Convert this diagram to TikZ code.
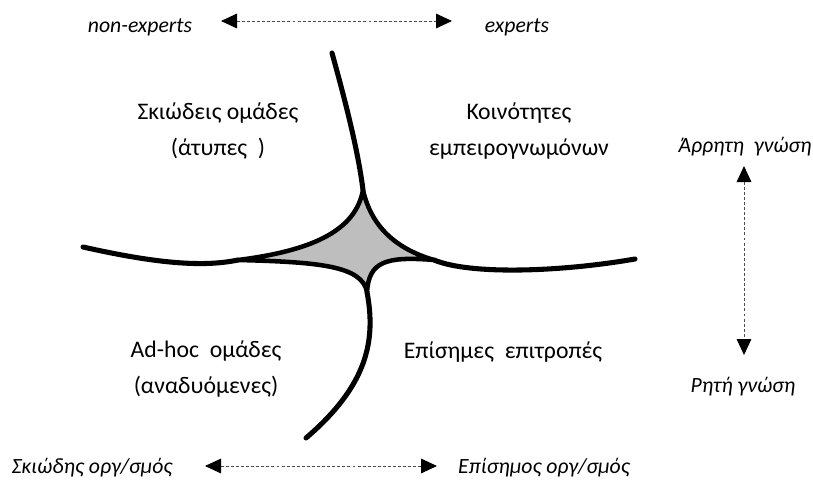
\documentclass[tikz,border=0pt]{standalone}
\usepackage{fontspec}
\setmainfont{Carlito}
\usetikzlibrary{arrows.meta}

\definecolor{starfill}{RGB}{190,190,190}

\begin{document}
\begin{tikzpicture}[x=0.75pt,y=-0.75pt,>={Triangle[length=12pt,width=11pt,color=black]}]
  \tikzset{quad/.style={align=center,font=\fontsize{17.8}{27}\selectfont},
    side/.style={font=\fontsize{16.3}{19}\selectfont\itshape},
    scaleline/.style={<->,gray!60!black,line width=0.7pt,dash pattern=on 2.2pt off 1.6pt},
    arm/.style={line width=3.8pt,line cap=round}}
  \useasboundingbox (0,0) rectangle (813,481);
  \coordinate (T) at (363,190);
  \coordinate (L) at (238,260);
  \coordinate (R) at (434,260);
  \coordinate (B) at (367,292);
  \coordinate (topend) at (332,53);
  \coordinate (botend) at (306,438);
  \coordinate (leftend) at (83,247);
  \coordinate (rightend) at (635,259);
  \filldraw[fill=starfill,line width=3.4pt,line join=round]
    (T) .. controls (356,228) and (318,250) .. (L)
        .. controls (320,262) and (362,266) .. (B)
        .. controls (369,262) and (385,256) .. (R)
        .. controls (400,250) and (372,230) .. (T) -- cycle;
  \draw[arm] (topend) .. controls (345,100) and (358,150) .. (T);
  \draw[arm] (B) .. controls (376,340) and (368,385) .. (botend);
  \draw[arm] (leftend) .. controls (150,262) and (200,268) .. (L);
  \draw[arm] (R) .. controls (470,275) and (560,272) .. (rightend);
  \node[quad] (nw) at (218,131) {Σκιώδεις ομάδες\\(άτυπες~~)};
  \node[quad] (ne) at (519,131) {Κοινότητες\\εμπειρογνωμόνων};
  \node[quad] (sw) at (206,369) {Ad-hoc~~ομάδες\\(αναδυόμενες)};
  \node[quad] (se) at (503,352) {Επίσημες~~επιτροπές};
  \node[side] (nonexp) at (140,27) {non-experts};
  \node[side] (exp) at (517,27) {experts};
  \node[side] (shadow) at (92,468) {Σκιώδης οργ/σμός};
  \node[side] (formal) at (544,468) {Επίσημος οργ/σμός};
  \node[side] (tacit) at (745,147) {Άρρητη~~γνώση};
  \node[side] (explicit) at (743,387) {Ρητή γνώση};
  \coordinate (a1) at (221,21);
  \coordinate (a2) at (452,21);
  \coordinate (b1) at (205,466);
  \coordinate (b2) at (437,466);
  \coordinate (c1) at (744,166);
  \coordinate (c2) at (744,355);
  \draw[scaleline] (a1) -- (a2);
  \draw[scaleline] (b1) -- (b2);
  \draw[scaleline] (c1) -- (c2);
\end{tikzpicture}
\end{document}
